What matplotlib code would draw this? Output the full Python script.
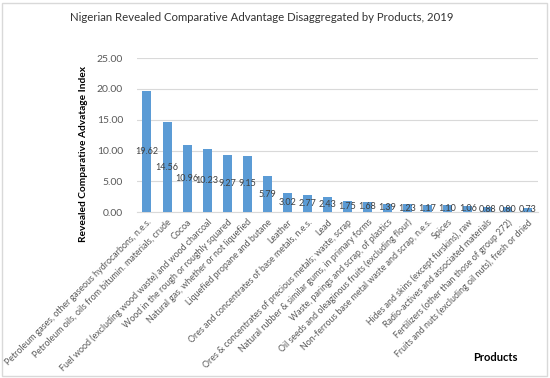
import matplotlib.pyplot as plt

# Data
products = [
    "Petroleum gases, other gaseous hydrocarbons, n.e.s.",
    "Petroleum oils, oils from bitumin. materials, crude",
    "Cocoa",
    "Fuel wood (excluding wood waste) and wood charcoal",
    "Wood in the rough or roughly squared",
    "Natural gas, whether or not liquefied",
    "Liquefied propane and butane",
    "Leather",
    "Ores and concentrates of base metals, n.e.s.",
    "Lead",
    "Ores & concentrates of precious metals; waste, scrap",
    "Natural rubber & similar gums, in primary forms",
    "Waste, parings and scrap, of plastics",
    "Oil seeds and oleaginous fruits (excluding flour)",
    "Non-ferrous base metal waste and scrap, n.e.s.",
    "Spices",
    "Hides and skins (except furskins), raw",
    "Radio-actives and associated materials",
    "Fertilizers (other than those of group 272)",
    "Fruits and nuts (excluding oil nuts), fresh or dried",
]
rca = [19.62, 14.56, 10.96, 10.23, 9.27, 9.15, 5.79, 3.02, 2.77, 2.43,
       1.75, 1.68, 1.39, 1.23, 1.17, 1.10, 1.06, 0.88, 0.80, 0.73]
yticks = [0, 5, 10, 15, 20, 25]

plt.rcParams['font.family'] = ['Lato', 'DejaVu Sans']

fig = plt.figure(figsize=(5.5, 3.78), dpi=100)
ax = fig.add_axes([0.249, 0.439, 0.729, 0.407])

x = list(range(len(products)))
bars = ax.bar(x, rca, width=0.45, color='#5b9bd5', zorder=3)

# value labels in the middle of each bar
for bar, v in zip(bars, rca):
    ax.text(bar.get_x() + bar.get_width() / 2, v / 2, f"{v:.2f}",
            ha='center', va='center', fontsize=6.5, color='#404040', zorder=4)

ax.set_ylim(0, 25)
ax.set_xlim(-0.5, len(products) - 0.5)
ax.set_yticks(yticks)
ax.set_yticklabels([f"{t:.2f}" for t in yticks], fontsize=7.5, color='#595959')
ax.set_xticks(x)
ax.set_xticklabels(products, rotation=45, ha='right', rotation_mode='anchor',
                   fontsize=6.4, color='#595959')
ax.tick_params(axis='y', length=0, pad=10)
ax.tick_params(axis='x', length=0, pad=4)
ax.grid(axis='y', color='#d9d9d9', linewidth=0.8, zorder=0)
for side in ['top', 'right', 'left']:
    ax.spines[side].set_visible(False)
ax.spines['bottom'].set_color('#d9d9d9')

ax.set_ylabel("Revealed Comparative Advatage Index", fontsize=7.3,
              fontweight='bold', color='#000000')
ax.yaxis.set_label_coords(-0.122, 0.377)
fig.text(0.9, 0.055, "Products", fontsize=8, fontweight='bold',
         ha='center', va='center')
fig.text(0.475, 0.955, "Nigerian Revealed Comparative Advantage Disaggregated by Products, 2019",
         fontsize=8.2, ha='center', va='center', color='#333333')

# chart border
fig.patches.append(plt.Rectangle((0.004, 0.006), 0.99, 0.985, transform=fig.transFigure,
                                 fill=False, edgecolor='#d9d9d9', linewidth=1))

fig.savefig("out.png", dpi=100)
